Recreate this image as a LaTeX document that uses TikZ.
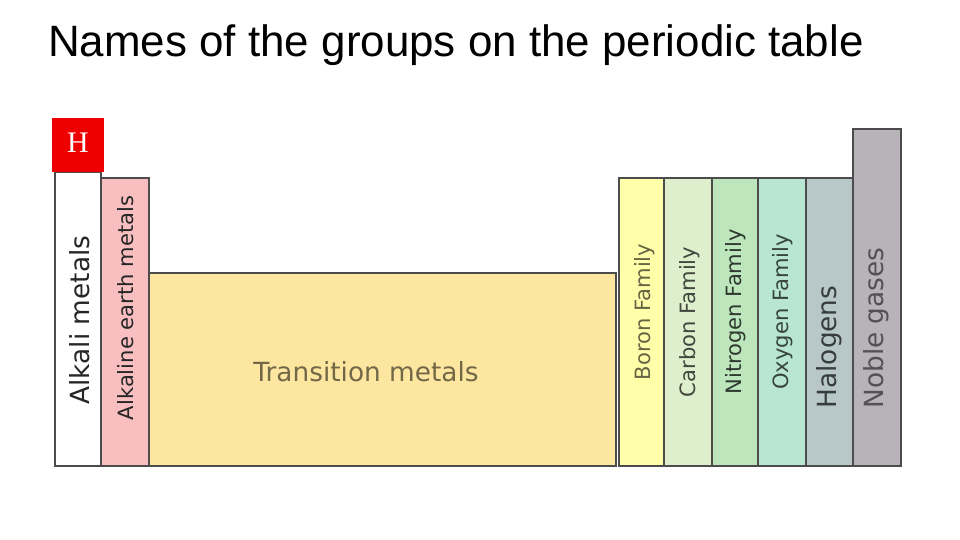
\documentclass[tikz,border=0pt]{standalone}
\usepackage{fontspec}
\setmainfont{Liberation Sans}
\newfontfamily\labelfont{DejaVu Sans}
\definecolor{alkearth}{HTML}{F9BFC0}
\definecolor{transit}{HTML}{FDE6A0}
\definecolor{boron}{HTML}{FFFFAA}
\definecolor{carbon}{HTML}{DDEFCC}
\definecolor{nitro}{HTML}{BDE6BC}
\definecolor{oxy}{HTML}{B8E6D2}
\definecolor{halo}{HTML}{B8C8C8}
\definecolor{noble}{HTML}{B7B3B8}
\definecolor{hred}{HTML}{EE0000}
\tikzset{
  column/.style={draw=black!70, line width=1pt},
  grouplabel/.style={rotate=90, font=\labelfont\fontsize{12}{13}\selectfont},
  biglabel/.style={rotate=90, font=\labelfont\fontsize{15}{16}\selectfont}
}
\begin{document}
\begin{tikzpicture}[x=0.02cm, y=-0.02cm]
\useasboundingbox (0,0) rectangle (960,540);

\node (title) at (456,45){\fontsize{25}{28}\selectfont Names of the groups on the periodic table};

% columns
\draw[column, fill=white] (55,172) rectangle (101,466);
\draw[column, fill=alkearth] (101,178) rectangle (149,466);
\draw[column, fill=transit] (149,273) rectangle (616,466);
\draw[column, fill=boron] (619,178) rectangle (664,466);
\draw[column, fill=carbon] (664,178) rectangle (712,466);
\draw[column, fill=nitro] (712,178) rectangle (758,466);
\draw[column, fill=oxy] (758,178) rectangle (806,466);
\draw[column, fill=halo] (806,178) rectangle (853,466);
\draw[column, fill=noble] (853,129) rectangle (901,466);
\fill[hred] (52,118) rectangle (104,172);

\node[text=white, font=\fontspec{Liberation Serif}\fontsize{17}{18}\selectfont] (hydrogen) at (78,143){H};

\node[biglabel, text=black!85] (alkali) at (80,320){Alkali metals};
\node[grouplabel, text=black!85] (alkearthlbl) at (126,308){Alkaline earth metals};
\node[text=black!55!transit, font=\labelfont\fontsize{15}{16}\selectfont] (transitlbl) at (366,372){Transition metals};
\node[grouplabel, text=black!60!boron] (boronlbl) at (645,312){Boron Family};
\node[grouplabel, text=black!70!carbon] (carbonlbl) at (690,322){Carbon Family};
\node[grouplabel, text=black!75!nitro] (nitrolbl) at (736,312){Nitrogen Family};
\node[grouplabel, text=black!70!oxy] (oxylbl) at (783,312){Oxygen Family};
\node[biglabel, text=black!70!halo] (halolbl) at (829,347){Halogens};
\node[biglabel, text=black!55!noble] (noblelbl) at (876,328){Noble gases};

\end{tikzpicture}
\end{document}
